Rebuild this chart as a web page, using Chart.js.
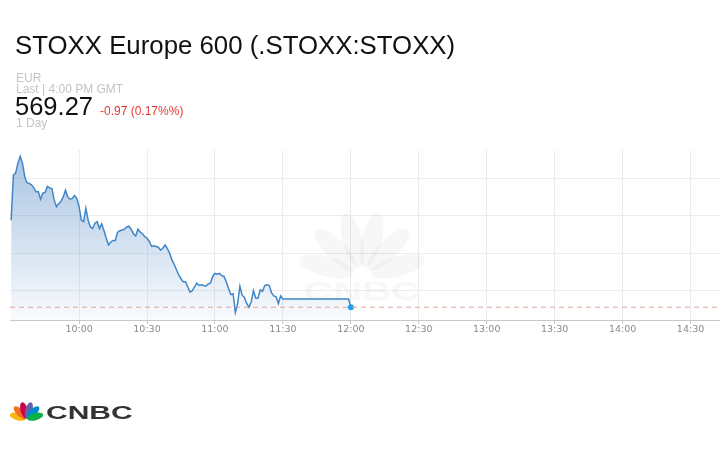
<!DOCTYPE html>
<html>
<head>
<meta charset="utf-8">
<title>STOXX Europe 600</title>
<script src="https://cdn.jsdelivr.net/npm/chart.js@4.4.1/dist/chart.umd.min.js"></script>
<style>
  html, body { margin: 0; padding: 0; background: #fff; }
  body { width: 720px; height: 450px; position: relative; overflow: hidden; font-family: "Liberation Sans", Arial, sans-serif; }
  #chart { position: absolute; left: 0; top: 0; }
  .txt { position: absolute; white-space: nowrap; line-height: 1; }
  #title { left: 15px; top: 33.2px; font-size: 25.8px; color: #111; }
  #cur { left: 16px; top: 71.5px; font-size: 12px; color: #c4c4c4; }
  #last { left: 16px; top: 83px; font-size: 12px; color: #c4c4c4; }
  #price { left: 15px; top: 94px; font-size: 25.5px; color: #111; }
  #change { left: 100px; top: 104.5px; font-size: 12px; color: #e53935; }
  #range { left: 16px; top: 117px; font-size: 12px; color: #c4c4c4; }
  #logo { position: absolute; left: 10px; top: 397px; }
  #logoText { left: 46px; top: 403px; font-size: 19px; font-weight: bold; color: #333;
              transform: scaleX(1.58); transform-origin: left top; }
</style>
</head>
<body>
<canvas id="chart" width="724" height="450"></canvas>

<div class="txt" id="title">STOXX Europe 600 (.STOXX:STOXX)</div>
<div class="txt" id="cur">EUR</div>
<div class="txt" id="last">Last | 4:00 PM GMT</div>
<div class="txt" id="price">569.27</div>
<div class="txt" id="change">-0.97 (0.17%%)</div>
<div class="txt" id="range">1 Day</div>

<svg id="logo" width="33" height="24" viewBox="0 0 33 24">
  <g transform="rotate(-75 16.5 22)"><ellipse cx="16.5" cy="13" rx="3.6" ry="8.4" fill="#fcb711"/></g>
  <g transform="rotate(-45 16.5 22)"><ellipse cx="16.5" cy="13" rx="3.6" ry="8.4" fill="#f37021"/></g>
  <g transform="rotate(-15 16.5 22)"><ellipse cx="16.5" cy="13" rx="3.6" ry="8.4" fill="#cc004c"/></g>
  <g transform="rotate(15 16.5 22)"><ellipse cx="16.5" cy="13" rx="3.6" ry="8.4" fill="#6460aa"/></g>
  <g transform="rotate(45 16.5 22)"><ellipse cx="16.5" cy="13" rx="3.6" ry="8.4" fill="#0089d0"/></g>
  <g transform="rotate(75 16.5 22)"><ellipse cx="16.5" cy="13" rx="3.6" ry="8.4" fill="#0db14b"/></g>
</svg>
<div class="txt" id="logoText">CNBC</div>

<script>
// === Data (one price per minute from 9:30) ===
const startTime = '9:30';
const endTime = '14:43';
const tickTimes = ['10:00', '10:30', '11:00', '11:30', '12:00', '12:30', '13:00', '13:30', '14:00', '14:30'];
const gridPrices = [570.5, 571, 571.5, 572];
const prevClose = 570.28;
const prices = [
  571.44, 572.04, 572.07, 572.20, 572.29, 572.20, 572.02, 571.94, 571.93, 571.91, 571.87,
  571.82, 571.82, 571.72, 571.80, 571.81, 571.89, 571.87, 571.86, 571.71, 571.62,
  571.66, 571.69, 571.75, 571.84, 571.75, 571.72, 571.73, 571.77, 571.73, 571.62,
  571.44, 571.42, 571.60, 571.44, 571.35, 571.33, 571.40, 571.42, 571.33, 571.39,
  571.30, 571.20, 571.11, 571.15, 571.17, 571.17, 571.28, 571.30, 571.31, 571.32,
  571.35, 571.36, 571.32, 571.26, 571.23, 571.32, 571.28, 571.26, 571.22, 571.20,
  571.16, 571.09, 571.10, 571.09, 571.08, 571.04, 571.07, 571.11, 571.06, 571.00,
  570.91, 570.85, 570.78, 570.71, 570.66, 570.62, 570.62, 570.55, 570.48, 570.50,
  570.55, 570.60, 570.57, 570.58, 570.57, 570.56, 570.59, 570.60, 570.69, 570.73,
  570.72, 570.73, 570.70, 570.69, 570.62, 570.53, 570.45, 570.46, 570.21, 570.33,
  570.56, 570.44, 570.41, 570.33, 570.28, 570.35, 570.50, 570.40, 570.40, 570.51,
  570.49, 570.57, 570.58, 570.57, 570.47, 570.43, 570.42, 570.33, 570.43, 570.39,
  570.39, 570.39, 570.39, 570.39, 570.39, 570.39, 570.39, 570.39, 570.39, 570.39,
  570.39, 570.39, 570.39, 570.39, 570.39, 570.39, 570.39, 570.39, 570.39, 570.39,
  570.39, 570.39, 570.39, 570.39, 570.39, 570.39, 570.39, 570.39, 570.39,
  570.28
];

// === Helpers ===
function toMinutes(t) {
  const [h, m] = t.split(':').map(Number);
  return h * 60 + m;
}
function fmtTime(v) {
  const h = Math.floor(v / 60);
  const m = Math.round(v % 60);
  return h + ':' + String(m).padStart(2, '0');
}

const start = toMinutes(startTime);
const xMin = start - 0.5;
const xMax = toMinutes(endTime);
const points = prices.map((p, i) => ({ x: start + i, y: p }));
const lastIndex = prices.length - 1;

// faint CNBC watermark behind the line
const watermark = {
  id: 'watermark',
  beforeDatasetsDraw(chart) {
    const c = chart.ctx;
    c.save();
    c.fillStyle = 'rgba(0,0,0,0.03)';
    for (let i = 0; i < 6; i++) {
      c.save();
      c.translate(362, 276);
      c.rotate((-75 + i * 30) * Math.PI / 180);
      c.beginPath();
      c.ellipse(0, -37, 10, 28, 0, 0, Math.PI * 2);
      c.fill();
      c.restore();
    }
    c.font = 'bold 26px "Liberation Sans"';
    c.textAlign = 'center';
    c.translate(362, 300);
    c.scale(1.55, 1);
    c.fillText('CNBC', 0, 0);
    c.restore();
  }
};

new Chart(document.getElementById('chart'), {
  type: 'line',
  data: {
    datasets: [
      {
        data: points,
        order: 1,
        borderColor: '#3f86c6',
        borderWidth: 1.5,
        tension: 0,
        fill: 'start',
        backgroundColor: (ctx) => {
          const area = ctx.chart.chartArea;
          if (!area) return 'rgba(60,120,190,0.2)';
          const g = ctx.chart.ctx.createLinearGradient(0, area.top, 0, area.bottom);
          g.addColorStop(0, 'rgba(60,120,190,0.45)');
          g.addColorStop(1, 'rgba(60,120,190,0.03)');
          return g;
        },
        pointRadius: (ctx) => (ctx.dataIndex === lastIndex ? 3 : 0),
        pointBackgroundColor: '#1fa0ea',
        pointBorderWidth: 0
      },
      {
        data: [{ x: xMin, y: prevClose }, { x: xMax, y: prevClose }],
        order: 0,
        borderColor: 'rgba(222,150,140,0.85)',
        borderWidth: 1,
        borderDash: [5, 4],
        pointRadius: 0,
        fill: false
      }
    ]
  },
  options: {
    responsive: false,
    animation: false,
    layout: { padding: { left: 10, top: 150, right: 0, bottom: 114.6 } },
    plugins: { legend: { display: false }, tooltip: { enabled: false } },
    scales: {
      x: {
        type: 'linear',
        min: xMin,
        max: xMax,
        afterBuildTicks: (scale) => { scale.ticks = tickTimes.map(t => ({ value: toMinutes(t) })); },
        ticks: {
          autoSkip: false,
          maxRotation: 0,
          padding: 0,
          color: '#8a8a8a',
          font: { family: 'DejaVu Sans', size: 9.5 },
          callback: (v) => fmtTime(v)
        },
        grid: { color: '#ececec', tickColor: '#c8c8c8', tickLength: 4 },
        border: { color: '#c8c8c8' }
      },
      y: {
        min: 570.11,
        max: 572.375,
        afterBuildTicks: (scale) => { scale.ticks = gridPrices.map(v => ({ value: v })); },
        ticks: { display: false },
        grid: { color: '#ededed', drawTicks: false },
        border: { display: false }
      }
    }
  },
  plugins: [watermark]
});
</script>
</body>
</html>
